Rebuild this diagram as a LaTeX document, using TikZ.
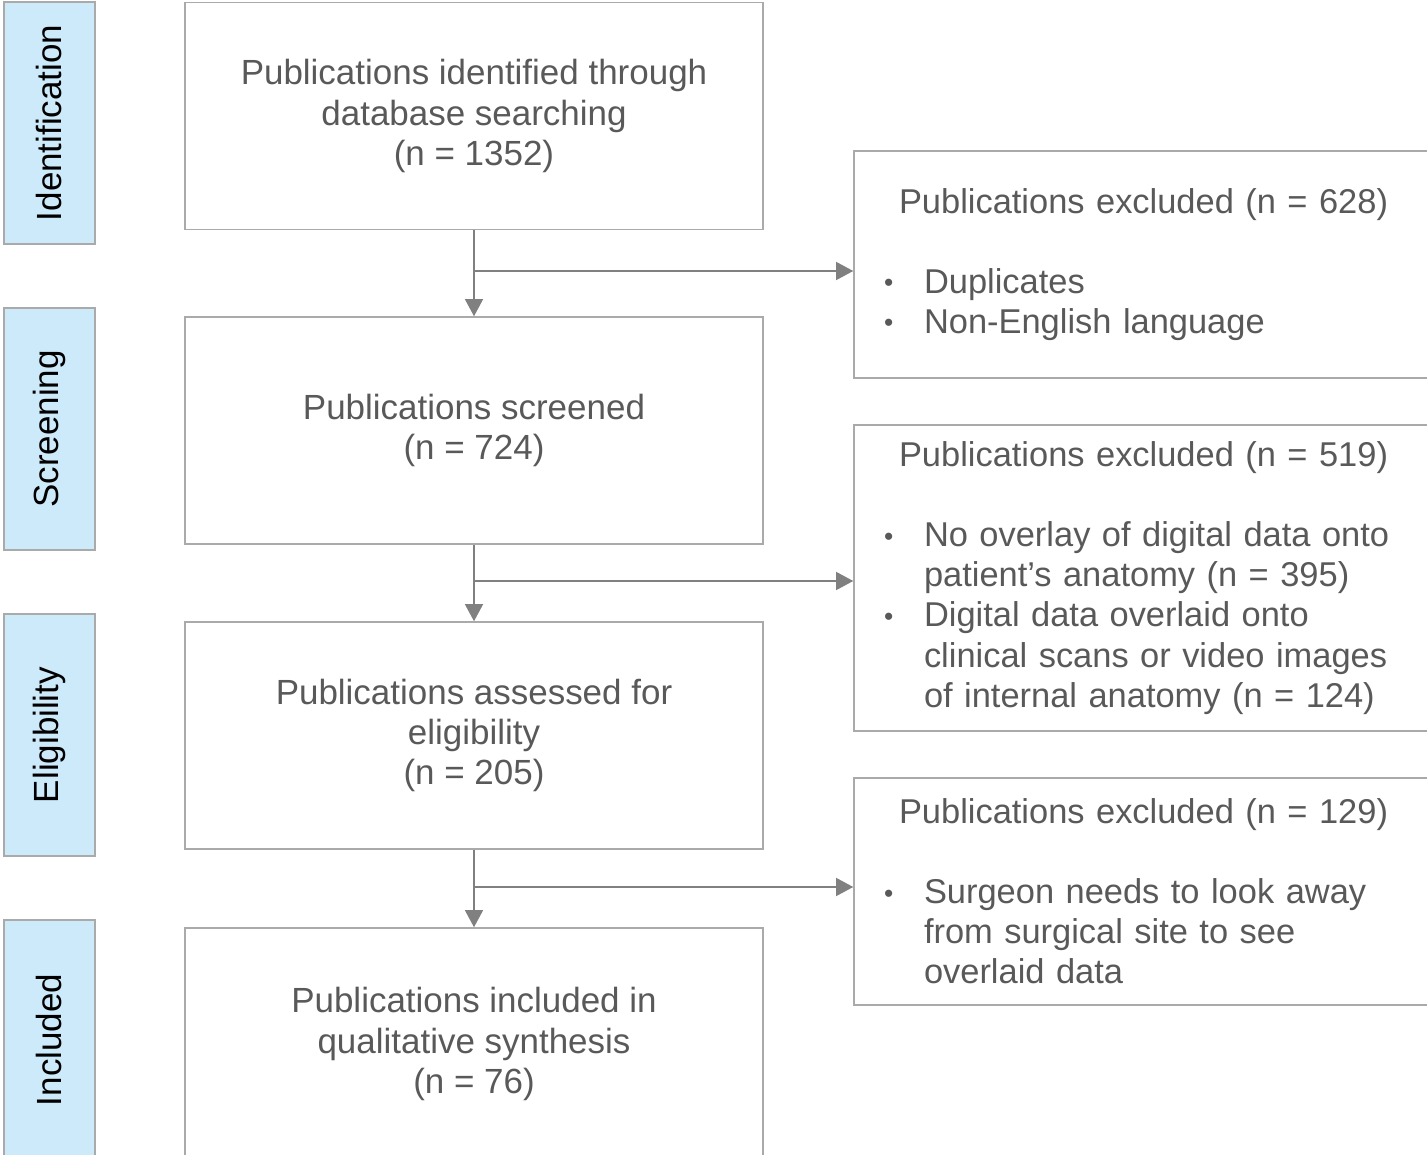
\documentclass[tikz,border=0pt]{standalone}
\usepackage{fontspec}
\setmainfont{Liberation Sans}
\usetikzlibrary{arrows.meta}

\newlength{\pxu}
\setlength{\pxu}{0.02cm}
\newcommand{\boxfont}{\fontsize{19.9}{22.8}\selectfont}
\newcommand{\exfont}{\fontsize{19.6}{22.8}\selectfont}
\newcommand{\blt}{\makebox[40\pxu][l]{\raisebox{1pt}{\fontsize{15}{15}\selectfont\textbullet}}}
\newcommand{\ind}{\hspace*{40\pxu}}
\newcommand{\ttl}{\hspace*{15\pxu}}

\definecolor{txtgray}{RGB}{89,89,89}
\definecolor{boxgray}{RGB}{170,170,170}
\definecolor{arrgray}{RGB}{128,128,128}
\definecolor{phaseblue}{RGB}{205,234,250}

\tikzset{
  phase/.style={draw=boxgray, fill=phaseblue, line width=1.5\pxu, rotate=90,
    minimum width=242\pxu, minimum height=91\pxu, font=\boxfont, text=black},
  mainbox/.style={draw=boxgray, line width=1.5\pxu, minimum width=578\pxu,
    minimum height=227\pxu, align=center, font=\boxfont, text=txtgray},
  exbox/.style={draw=boxgray, line width=1.5\pxu, inner xsep=30\pxu,
    text width=560\pxu, align=left, font=\exfont, text=txtgray},
  arr/.style={draw=arrgray, line width=0.9pt,
    -{Triangle[width=10.2pt,length=9.7pt]}},
}

\begin{document}
\begin{tikzpicture}[x=0.02cm, y=-0.02cm]
    \useasboundingbox (0,0) rectangle (1427,1155);

    \node[phase] (ident) at (49.5,123) {Identification};
    \node[phase] (scrn) at (49.5,429) {Screening};
    \node[phase] (elig) at (49.5,735) {Eligibility};
    \node[phase, minimum width=240\pxu] (incl) at (49.5,1040) {Included};

    \node[mainbox] (found) at (474,116) {Publications identified through\\database searching\\(n = 1352)};
    \node[mainbox] (screened) at (474,430.5) {Publications screened\\(n = 724)};
    \node[mainbox] (assessed) at (474,735.5) {Publications assessed for\\eligibility\\(n = 205)};
    \node[mainbox, minimum height=232\pxu] (included) at (474,1044) {Publications included in\\qualitative synthesis\\(n = 76)};

    \node[exbox, minimum height=227\pxu] (exA) at (1164,264.5) {\ttl Publications excluded (n = 628)\\[22.8pt]
      \blt Duplicates\\
      \blt Non-English language};
    \node[exbox, minimum height=306\pxu] (exB) at (1164,578) {\ttl Publications excluded (n = 519)\\[22.8pt]
      \blt No overlay of digital data onto\\
      \ind patient's anatomy (n = 395)\\
      \blt Digital data overlaid onto\\
      \ind clinical scans or video images\\
      \ind of internal anatomy (n = 124)};
    \node[exbox, minimum height=227\pxu] (exC) at (1164,891.5) {\ttl Publications excluded (n = 129)\\[22.8pt]
      \blt Surgeon needs to look away\\
      \ind from surgical site to see\\
      \ind overlaid data};

    \coordinate (jA) at (474,271);
    \coordinate (jB) at (474,581);
    \coordinate (jC) at (474,887);

    \draw[arr] (found) -- (screened);
    \draw[arr] (screened) -- (assessed);
    \draw[arr] (assessed) -- (included);
    \draw[arr] (jA) -- (jA -| exA.west);
    \draw[arr] (jB) -- (jB -| exB.west);
    \draw[arr] (jC) -- (jC -| exC.west);
  \end{tikzpicture}
\end{document}
